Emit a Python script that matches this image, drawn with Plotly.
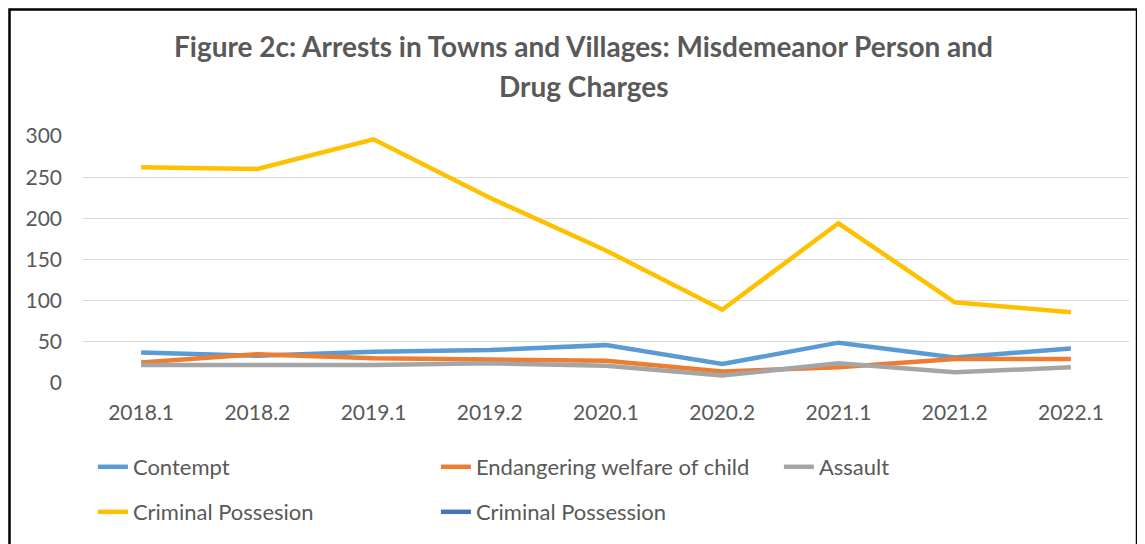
import plotly.graph_objects as go

periods = ["2018.1", "2018.2", "2019.1", "2019.2", "2020.1", "2020.2", "2021.1", "2021.2", "2022.1"]
contempt = [37, 33, 38, 40, 46, 23, 49, 31, 42]
endangering = [25, 35, 30, 28, 27, 14, 19, 29, 29]
assault = [22, 22, 22, 24, 21, 9, 24, 13, 19]
criminal_possesion = [262, 260, 296, 225, 161, 89, 194, 98, 86]
criminal_possession = [None] * 9

series = [
    ("Contempt", contempt, "#5B9BD5", "legend"),
    ("Endangering welfare of child", endangering, "#ED7D31", "legend"),
    ("Assault", assault, "#A5A5A5", "legend"),
    ("Criminal Possesion", criminal_possesion, "#FFC000", "legend2"),
    ("Criminal Possession", criminal_possession, "#4472C4", "legend2"),
]

fig = go.Figure()
for name, vals, color, leg in series:
    fig.add_trace(go.Scatter(
        x=periods, y=vals, name=name, mode="lines",
        line=dict(color=color, width=4.5),
        legend=leg, showlegend=True,
    ))

font_color = "#595959"
fam = "Lato, 'Open Sans', sans-serif"

# page body adds an 8px offset; layout below compensates
OFF = 8
L = 83 - OFF          # plot left in figure px
T = 136 - OFF         # plot top
R = 1129 - OFF        # plot right
B = 383 - OFF         # plot bottom
W, H = 1145, 544
PW, PH = R - L, B - T

def px(xp):
    return (xp - OFF - L) / PW

def py(yp):
    return (B - (yp - OFF)) / PH

legend_x = px(88) - 0.006 + 0.0107

fig.update_layout(
    width=W, height=H,
    margin=dict(l=L, r=W - R, t=T, b=H - B, autoexpand=False),
    paper_bgcolor="white", plot_bgcolor="white",
    font=dict(family=fam, color=font_color, size=21),
    xaxis=dict(
        type="category", range=[-0.5, len(periods) - 0.5],
        showgrid=False, zeroline=False, showline=False,
        ticks="", ticklabelstandoff=15, tickfont=dict(size=21, color=font_color),
    ),
    yaxis=dict(
        range=[0, 300], tickvals=[0, 50, 100, 150, 200, 250, 300],
        showgrid=True, gridcolor="#D9D9D9", gridwidth=1,
        zeroline=False, showline=False, ticks="",
        ticklabelstandoff=20, tickfont=dict(size=21, color=font_color),
    ),
    legend=dict(
        orientation="h", x=legend_x, xanchor="left", y=py(467), yanchor="middle",
        entrywidth=298, entrywidthmode="pixels",
        font=dict(size=22, color=font_color), bgcolor="rgba(0,0,0,0)",
        traceorder="normal",
    ),
    legend2=dict(
        orientation="h", x=legend_x, xanchor="left", y=py(512), yanchor="middle",
        entrywidth=298, entrywidthmode="pixels",
        font=dict(size=22, color=font_color), bgcolor="rgba(0,0,0,0)",
        traceorder="normal",
    ),
    showlegend=True,
)

fig.add_annotation(
    text="<b>Figure 2c: Arrests in Towns and Villages: Misdemeanor Person and</b>",
    xref="paper", yref="paper", x=px(583), y=py(46), xanchor="center", yanchor="middle",
    showarrow=False, font=dict(size=28, color=font_color, family=fam),
)
fig.add_annotation(
    text="<b>Drug Charges</b>",
    xref="paper", yref="paper", x=px(583), y=py(86), xanchor="center", yanchor="middle",
    showarrow=False, font=dict(size=28, color=font_color, family=fam),
)

# chart border
fig.add_shape(
    type="rect", xref="paper", yref="paper",
    x0=px(9.5), x1=px(1137), y0=py(570), y1=py(9.5),
    line=dict(color="black", width=2.5), fillcolor="rgba(0,0,0,0)", layer="below",
)

fig.write_html("out.html")
